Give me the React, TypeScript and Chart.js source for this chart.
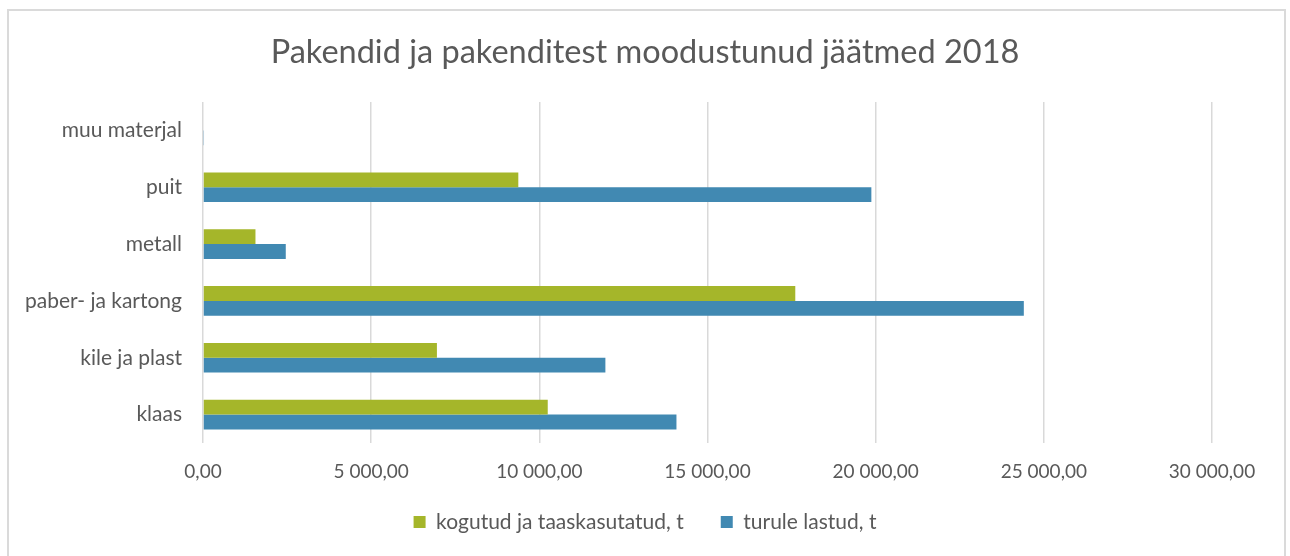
import React, { useEffect, useRef } from 'react';
import { Chart, registerables } from 'chart.js';

Chart.register(...registerables);

const chartTitle = 'Pakendid ja pakenditest moodustunud jäätmed 2018';
const categories = ['muu materjal', 'puit', 'metall', 'paber- ja kartong', 'kile ja plast', 'klaas'];
const seriesLabels = ['kogutud ja taaskasutatud, t', 'turule lastud, t'];
const collected = [0, 9375, 1560, 17610, 6955, 10250];
const placed = [30, 19872, 2461, 24405, 11964, 14077];
const xMin = 0;
const xMax = 30000;
const xStep = 5000;

const TEXT = '#595959';
const GREEN = '#a5b62a';
const BLUE = '#4189b2';
const GRID = '#d9d9d9';
const FONT = 'Lato';

function fmt(v: number): string {
  const s = Math.round(v).toString().replace(/\B(?=(\d{3})+(?!\d))/g, ' ');
  return s + ',00';
}

// nudges the legend box upward after layout (keeps the wide item gap)
const legendShift = {
  id: 'legendShift',
  afterLayout(chart: any) {
    const l = chart.legend;
    if (l) {
      l.top -= 26.5;
      l.bottom -= 26.5;
    }
  },
};

export default function App() {
  const ref = useRef<HTMLCanvasElement | null>(null);

  useEffect(() => {
    if (!ref.current) return;
    const chart = new Chart(ref.current, {
      type: 'bar',
      data: {
        labels: categories,
        datasets: [
          { label: seriesLabels[0], data: collected, backgroundColor: GREEN, categoryPercentage: 0.523, barPercentage: 1 },
          { label: seriesLabels[1], data: placed, backgroundColor: BLUE, categoryPercentage: 0.523, barPercentage: 1 },
        ],
      },
      options: {
        indexAxis: 'y',
        animation: false,
        responsive: true,
        maintainAspectRatio: false,
        layout: { padding: { left: 0, right: 0, top: 0, bottom: -13 } },
        scales: {
          x: {
            min: xMin,
            max: xMax,
            ticks: {
              stepSize: xStep,
              callback: (v: any) => fmt(Number(v)),
              color: TEXT,
              font: { family: FONT, size: 19 },
              padding: 17.6,
              maxRotation: 0,
              autoSkip: false,
            },
            grid: { color: GRID, lineWidth: 1.5, drawTicks: false },
            border: { display: false },
          },
          y: {
            ticks: { color: TEXT, font: { family: FONT, size: 21 }, padding: 21 },
            grid: { display: false, drawTicks: false },
            border: { display: false },
            afterFit: (s: any) => { s.width = 203; },
          },
          yRight: {
            type: 'linear',
            position: 'right',
            display: true,
            ticks: { display: false },
            grid: { display: false, drawTicks: false },
            border: { display: false },
            afterFit: (s: any) => { s.width = 78; },
          },
        },
        plugins: {
          title: {
            display: true,
            text: chartTitle,
            color: TEXT,
            font: { family: FONT, size: 32.5, weight: 'normal' },
            padding: { top: 33, bottom: 30 },
          },
          legend: {
            position: 'bottom',
            labels: { boxWidth: 12, boxHeight: 12, color: TEXT, font: { family: FONT, size: 21 }, padding: 37 },
          },
          tooltip: { enabled: false },
        },
      },
      plugins: [legendShift],
    });
    return () => chart.destroy();
  }, []);

  return (
    <div>
      <div
        style={{
          position: 'absolute', left: 7, top: 9, width: 1279, height: 547, boxSizing: 'border-box',
          borderTop: '2px solid #dadada', borderLeft: '2px solid #dadada', borderRight: '2px solid #dadada',
        }}
      />
      <div style={{ position: 'absolute', left: 0, top: 0, width: 1290, height: 556 }}>
        <canvas ref={ref} />
      </div>
    </div>
  );
}
